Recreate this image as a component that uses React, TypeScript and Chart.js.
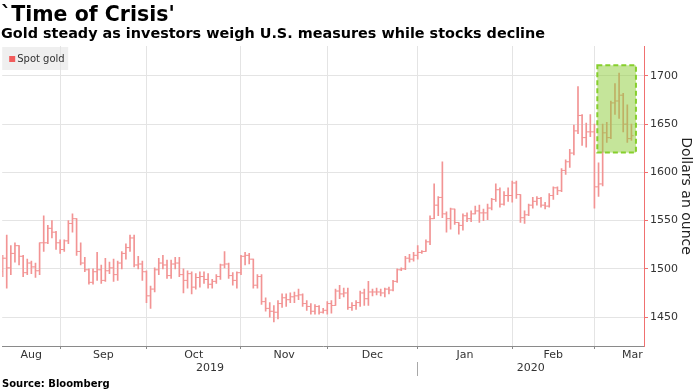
import React, { useEffect, useRef } from 'react';
import { Chart, registerables } from 'chart.js';

Chart.register(...registerables);

const FONT = '"DejaVu Sans", Verdana, sans-serif';

// First trading (week) day shown; one bar per weekday from here on
const startDate = '2019-08-12';

const openPrices = [
  1497, 1511, 1501, 1516, 1524, 1513, 1496, 1506, 1502, 1498,
  1527, 1527, 1542, 1538, 1527, 1520, 1529, 1547, 1552, 1518,
  1506, 1499, 1486, 1497, 1499, 1488, 1498, 1501, 1494, 1506,
  1516, 1522, 1532, 1504, 1505, 1497, 1472, 1479, 1499, 1506,
  1504, 1493, 1505, 1506, 1494, 1488, 1495, 1481, 1491, 1492,
  1489, 1484, 1487, 1492, 1504, 1505, 1493, 1488, 1496, 1513,
  1514, 1510, 1483, 1492, 1466, 1459, 1456, 1455, 1464, 1470,
  1468, 1471, 1472, 1473, 1464, 1461, 1456, 1461, 1455, 1457,
  1464, 1462, 1477, 1474, 1475, 1460, 1462, 1465, 1475, 1469,
  1476, 1476, 1476, 1475, 1479, 1478, 1487, 1499, 1500, 1511,
  1510, 1514, 1517, 1518, 1528, 1552, 1566, 1574, 1557, 1552,
  1562, 1548, 1545, 1555, 1552, 1557, 1560, 1558, 1558, 1563,
  1572, 1582, 1567, 1576, 1576, 1589, 1577, 1553, 1556, 1566,
  1570, 1573, 1566, 1565, 1576, 1584, 1581, 1602, 1611, 1620,
  1643, 1659, 1636, 1642, 1642, 1585, 1588, 1641, 1636, 1672,
  1674, 1680, 1650, 1635,
];

const highPrices = [
  1514, 1535, 1524, 1527, 1524, 1514, 1510, 1508, 1506, 1527,
  1555, 1545, 1550, 1539, 1530, 1530, 1550, 1557, 1552, 1527,
  1512, 1500, 1500, 1517, 1504, 1511, 1507, 1510, 1508, 1518,
  1526, 1535, 1535, 1513, 1508, 1498, 1482, 1501, 1511, 1514,
  1509, 1509, 1512, 1512, 1500, 1498, 1497, 1495, 1497, 1497,
  1495, 1489, 1494, 1505, 1518, 1506, 1496, 1497, 1514, 1517,
  1516, 1510, 1494, 1494, 1470, 1465, 1462, 1467, 1474, 1474,
  1475, 1476, 1479, 1474, 1467, 1464, 1463, 1462, 1459, 1466,
  1467, 1479, 1483, 1480, 1480, 1465, 1467, 1477, 1479, 1487,
  1479, 1480, 1479, 1480, 1481, 1488, 1500, 1501, 1513, 1515,
  1517, 1524, 1519, 1530, 1555, 1588, 1575, 1611, 1559, 1563,
  1562, 1548, 1557, 1558, 1560, 1565, 1566, 1562, 1567, 1573,
  1588, 1584, 1580, 1584, 1591, 1591, 1577, 1560, 1567, 1574,
  1575, 1574, 1569, 1578, 1585, 1585, 1604, 1613, 1624, 1649,
  1689, 1660, 1651, 1660, 1650, 1610, 1650, 1652, 1674, 1692,
  1703, 1682, 1670, 1650,
];

const lowPrices = [
  1492, 1480, 1494, 1507, 1504, 1492, 1494, 1495, 1491, 1494,
  1518, 1526, 1532, 1520, 1516, 1518, 1526, 1538, 1514, 1504,
  1497, 1484, 1484, 1488, 1485, 1487, 1495, 1487, 1488, 1500,
  1510, 1518, 1502, 1500, 1488, 1465, 1459, 1476, 1494, 1500,
  1490, 1490, 1500, 1492, 1475, 1480, 1474, 1479, 1481, 1485,
  1480, 1480, 1485, 1489, 1501, 1490, 1483, 1480, 1494, 1504,
  1505, 1480, 1480, 1463, 1456, 1450, 1445, 1448, 1460, 1461,
  1465, 1465, 1468, 1461, 1457, 1453, 1453, 1453, 1454, 1453,
  1454, 1462, 1469, 1471, 1458, 1457, 1458, 1461, 1462, 1462,
  1472, 1473, 1472, 1471, 1474, 1477, 1486, 1498, 1499, 1507,
  1508, 1510, 1516, 1518, 1525, 1552, 1555, 1553, 1538, 1541,
  1546, 1536, 1540, 1549, 1549, 1557, 1548, 1550, 1551, 1561,
  1570, 1564, 1566, 1570, 1569, 1573, 1548, 1547, 1555, 1563,
  1566, 1564, 1562, 1564, 1572, 1577, 1580, 1598, 1605, 1618,
  1640, 1628, 1626, 1637, 1563, 1575, 1586, 1631, 1635, 1660,
  1656, 1642, 1631, 1633,
];

const closePrices = [
  1511, 1501, 1516, 1524, 1513, 1496, 1506, 1502, 1498, 1527,
  1527, 1542, 1538, 1527, 1520, 1529, 1547, 1552, 1518, 1506,
  1499, 1486, 1497, 1499, 1488, 1498, 1501, 1494, 1506, 1516,
  1522, 1532, 1504, 1505, 1497, 1472, 1479, 1499, 1506, 1504,
  1493, 1505, 1506, 1494, 1488, 1495, 1481, 1491, 1492, 1489,
  1484, 1487, 1492, 1504, 1505, 1493, 1488, 1496, 1513, 1514,
  1510, 1483, 1492, 1466, 1459, 1456, 1455, 1464, 1470, 1468,
  1471, 1472, 1473, 1464, 1461, 1456, 1461, 1455, 1457, 1464,
  1462, 1477, 1474, 1475, 1460, 1462, 1465, 1475, 1469, 1476,
  1476, 1476, 1475, 1479, 1478, 1487, 1499, 1500, 1511, 1510,
  1514, 1517, 1518, 1528, 1552, 1566, 1574, 1557, 1552, 1562,
  1548, 1545, 1555, 1552, 1557, 1560, 1558, 1558, 1563, 1572,
  1582, 1567, 1576, 1576, 1589, 1577, 1553, 1556, 1566, 1570,
  1573, 1566, 1565, 1576, 1584, 1581, 1602, 1611, 1620, 1643,
  1659, 1636, 1642, 1642, 1585, 1588, 1641, 1636, 1672, 1674,
  1680, 1650, 1635, 1638,
];

const yTickValues = [1450, 1500, 1550, 1600, 1650, 1700];
const monthNames = ['Jan', 'Feb', 'Mar', 'Apr', 'May', 'Jun', 'Jul', 'Aug', 'Sep', 'Oct', 'Nov', 'Dec'];

// Axis window in weekday-index units, value range in dollars
const xMin = -0.1;
const xMax = 156.06;
const yMin = 1420;
const yMax = 1731;

// Highlighted "time of crisis" window (weekday index / dollars)
const crisisFrom = 144.7;
const crisisTo = 154.1;
const crisisLow = 1620.5;
const crisisHigh = 1711;

const titleText = "`Time of Crisis'";
const subtitleText = 'Gold steady as investors weigh U.S. measures while stocks decline';
const sourceText = 'Source: Bloomberg';
const legendText = 'Spot gold';
const axisTitle = 'Dollars an ounce';

const BAR_COLOR = '#f29494';
const LEGEND_COLOR = '#f25c5c';

function weekdaysFrom(start: string, n: number): Date[] {
  const out: Date[] = [];
  const d = new Date(start + 'T00:00:00Z');
  while (out.length < n) {
    const wd = d.getUTCDay();
    if (wd !== 0 && wd !== 6) out.push(new Date(d.getTime()));
    d.setUTCDate(d.getUTCDate() + 1);
  }
  return out;
}

type TickDef = { value: number; label: string; boundary: boolean };

function buildCalendar() {
  const n = closePrices.length;
  const days = weekdaysFrom(startDate, n + 30);
  const key = (d: Date) => d.getUTCFullYear() * 12 + d.getUTCMonth();
  const months: { first: number; last: number; m: number; y: number }[] = [];
  days.forEach((d, i) => {
    const k = key(d);
    const cur = months[months.length - 1];
    if (!cur || key(days[cur.first]) !== k) months.push({ first: i, last: i, m: d.getUTCMonth(), y: d.getUTCFullYear() });
    else cur.last = i;
  });
  const visible = months.filter((mo) => mo.first <= xMax);
  const boundaries: number[] = [];
  const monthTicks: TickDef[] = [];
  visible.forEach((mo, k) => {
    const prev = k === 0 ? Math.max(mo.first - 1, xMin) : mo.first - 1;
    const next = mo.last;
    if (mo.last < xMax) boundaries.push(mo.last);
    const center = Math.min((prev + next) / 2, xMax - 2.8);
    monthTicks.push({ value: center, label: monthNames[mo.m], boundary: false });
  });
  const xTicks: TickDef[] = [
    ...boundaries.map((b) => ({ value: b, label: '', boundary: true })),
    ...monthTicks,
  ].sort((a, b) => a.value - b.value);

  const yearTicks: TickDef[] = [];
  const years = Array.from(new Set(visible.map((m) => m.y)));
  years.forEach((yr, k) => {
    const ms = visible.filter((m) => m.y === yr);
    const from = k === 0 ? xMin : ms[0].first - 1;
    const to = Math.min(ms[ms.length - 1].last, xMax);
    if (k > 0) yearTicks.push({ value: ms[0].first - 1, label: '', boundary: true });
    yearTicks.push({ value: (from + to) / 2, label: String(yr), boundary: false });
  });
  yearTicks.sort((a, b) => a.value - b.value);
  return { xTicks, yearTicks };
}

export default function App() {
  const canvasRef = useRef<HTMLCanvasElement | null>(null);

  useEffect(() => {
    const canvas = canvasRef.current;
    if (!canvas) return;
    const { xTicks, yearTicks } = buildCalendar();

    const bars = closePrices.map((_, i) => ({ x: i, y: [lowPrices[i], highPrices[i]] }));
    const opens = openPrices.map((v, i) => ({ x: i - 0.25, y: v }));
    const closes = closePrices.map((v, i) => ({ x: i + 0.25, y: v }));

    const overlay = {
      id: 'overlay',
      beforeDraw(chart: any) {
        const { ctx, chartArea } = chart;
        ctx.save();
        ctx.fillStyle = '#efefef';
        ctx.fillRect(chartArea.left, chartArea.top + 1, 66, 23);
        ctx.restore();
      },
      afterDatasetsDraw(chart: any) {
        const { ctx, scales, chartArea } = chart;
        const x = scales.x;
        const y = scales.y;
        const l = x.getPixelForValue(crisisFrom);
        const r = x.getPixelForValue(crisisTo);
        const t = y.getPixelForValue(crisisHigh);
        const b = y.getPixelForValue(crisisLow);
        ctx.save();
        ctx.fillStyle = 'rgba(139, 203, 53, 0.5)';
        ctx.fillRect(l, t, r - l, b - t);
        ctx.setLineDash([5, 3]);
        ctx.lineWidth = 2;
        ctx.strokeStyle = '#86cf2c';
        ctx.strokeRect(l, t, r - l, b - t);
        ctx.restore();

        ctx.save();
        ctx.fillStyle = LEGEND_COLOR;
        ctx.fillRect(chartArea.left + 7, chartArea.top + 10, 6, 6);
        ctx.fillStyle = '#333333';
        ctx.font = '10px ' + FONT;
        ctx.textBaseline = 'middle';
        ctx.textAlign = 'left';
        ctx.fillText(legendText, chartArea.left + 15, chartArea.top + 13);
        ctx.restore();
      },
    };

    const chart = new Chart(canvas, {
      type: 'bar',
      data: {
        datasets: [
          {
            type: 'bar',
            label: legendText,
            data: bars as any,
            backgroundColor: BAR_COLOR,
            borderWidth: 0,
            barThickness: 1,
            order: 2,
          } as any,
          {
            type: 'line',
            label: 'open',
            data: opens,
            showLine: false,
            pointStyle: 'line',
            pointRadius: 1.2,
            pointHoverRadius: 1.2,
            pointBorderWidth: 1,
            borderColor: BAR_COLOR,
            backgroundColor: BAR_COLOR,
            order: 1,
          } as any,
          {
            type: 'line',
            label: 'close',
            data: closes,
            showLine: false,
            pointStyle: 'line',
            pointRadius: 1.2,
            pointHoverRadius: 1.2,
            pointBorderWidth: 1,
            borderColor: BAR_COLOR,
            backgroundColor: BAR_COLOR,
            order: 1,
          } as any,
        ],
      },
      options: {
        responsive: false,
        animation: false,
        events: [],
        layout: { padding: { top: 46, left: 0, right: 0, bottom: 0 } },
        plugins: {
          legend: { display: false },
          tooltip: { enabled: false },
          title: { display: false },
        },
        scales: {
          x: {
            type: 'linear',
            position: 'bottom',
            min: xMin,
            max: xMax,
            offset: false,
            weight: 0,
            afterBuildTicks: (scale: any) => {
              scale.ticks = xTicks.map((t) => ({ value: t.value }));
            },
            afterFit: (scale: any) => {
              scale.height = 16;
              scale.paddingLeft = 0;
              scale.paddingRight = 0;
            },
            grid: {
              offset: false,
              color: (ctx: any) => (xTicks[ctx.index] && xTicks[ctx.index].boundary ? '#e4e4e4' : 'rgba(0,0,0,0)'),
              tickColor: (ctx: any) => (xTicks[ctx.index] && xTicks[ctx.index].boundary ? '#8a8a8a' : 'rgba(0,0,0,0)'),
              tickLength: 3,
              drawTicks: true,
            },
            border: { display: true, color: '#8a8a8a', width: 1 },
            ticks: {
              autoSkip: false,
              maxRotation: 0,
              minRotation: 0,
              padding: 0,
              color: '#333333',
              font: { family: FONT, size: 11 },
              callback: (_v: any, i: number) => (xTicks[i] ? xTicks[i].label : ''),
            },
          },
          xYear: {
            type: 'linear',
            position: 'bottom',
            min: xMin,
            max: xMax,
            offset: false,
            weight: 1,
            afterBuildTicks: (scale: any) => {
              scale.ticks = yearTicks.map((t) => ({ value: t.value }));
            },
            afterFit: (scale: any) => {
              scale.height = 30;
              scale.paddingLeft = 0;
              scale.paddingRight = 0;
            },
            grid: {
              offset: false,
              drawOnChartArea: false,
              color: (ctx: any) => (yearTicks[ctx.index] && yearTicks[ctx.index].boundary ? '#a8a8a8' : 'rgba(0,0,0,0)'),
              tickColor: (ctx: any) => (yearTicks[ctx.index] && yearTicks[ctx.index].boundary ? '#a8a8a8' : 'rgba(0,0,0,0)'),
              tickLength: 14,
            },
            border: { display: false },
            ticks: {
              autoSkip: false,
              maxRotation: 0,
              minRotation: 0,
              padding: -14,
              color: '#333333',
              font: { family: FONT, size: 11 },
              callback: (_v: any, i: number) => (yearTicks[i] ? yearTicks[i].label : ''),
            },
          },
          y: {
            type: 'linear',
            position: 'right',
            min: yMin,
            max: yMax,
            beginAtZero: false,
            afterBuildTicks: (scale: any) => {
              scale.ticks = yTickValues.map((v) => ({ value: v }));
            },
            afterFit: (scale: any) => {
              scale.width = 54;
            },
            grid: {
              color: '#e4e4e4',
              tickColor: '#f07070',
              tickLength: 4,
            },
            border: { display: true, color: '#f07070', width: 1 },
            ticks: {
              padding: 2,
              color: '#333333',
              font: { family: FONT, size: 11 },
              callback: (v: any) => String(v),
            },
            title: {
              display: true,
              text: axisTitle,
              color: '#222222',
              font: { family: FONT, size: 14 },
              padding: { top: 4, bottom: 0 },
            },
          },
        },
      } as any,
      plugins: [overlay],
    });

    return () => chart.destroy();
  }, []);

  return (
    <div style={{ position: 'absolute', left: 0, top: 0, width: 698, height: 392, background: '#ffffff', overflow: 'hidden' }}>
      <canvas ref={canvasRef} width={698} height={392} style={{ position: 'absolute', left: 0, top: 0, width: 698, height: 392 }} />
      <div style={{ position: 'absolute', left: 1, top: 2, fontFamily: FONT, fontWeight: 'bold', fontSize: 20.5, lineHeight: '24px', color: '#000', whiteSpace: 'nowrap' }}>
        {titleText}
      </div>
      <div style={{ position: 'absolute', left: 1, top: 25, fontFamily: FONT, fontWeight: 'bold', fontSize: 14.4, lineHeight: '17px', color: '#000', whiteSpace: 'nowrap' }}>
        {subtitleText}
      </div>
      <div style={{ position: 'absolute', left: 2, top: 378, fontFamily: FONT, fontWeight: 'bold', fontSize: 10, lineHeight: '12px', color: '#000', whiteSpace: 'nowrap' }}>
        {sourceText}
      </div>
    </div>
  );
}
